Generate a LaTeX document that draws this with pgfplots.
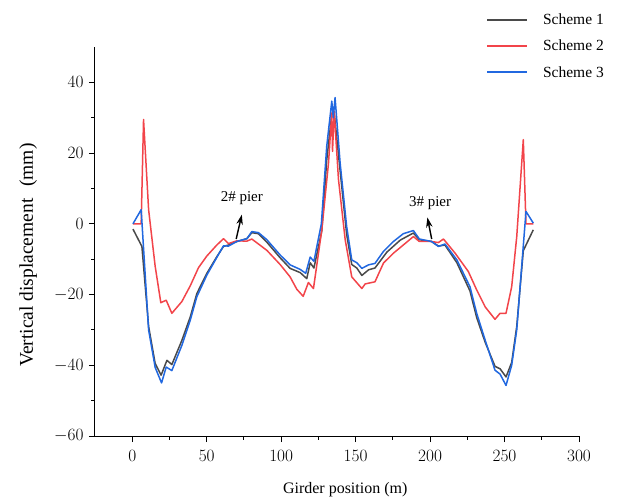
\documentclass[border=0pt]{standalone}
\usepackage{fontspec}
\setmainfont{Liberation Serif}
\usepackage{pgfplots}
\pgfplotsset{compat=1.18}
\usetikzlibrary{arrows.meta}

\definecolor{sone}{HTML}{4A4A4A}
\definecolor{stwo}{HTML}{F2444A}
\definecolor{sthree}{HTML}{2168E0}

\begin{document}
\begin{tikzpicture}
\begin{axis}[
    scale only axis, width=484pt, height=389pt,
    xmin=-25, xmax=300, ymin=-60, ymax=50,
    xtick={0,50,...,300}, ytick={-60,-40,...,40},
    minor tick num=1,
    axis lines=left, axis line style={-, line width=1pt},
    tick align=outside, major tick length=6pt, minor tick length=3.5pt,
    every tick/.style={black, line width=0.9pt},
    tick label style={font=\fontsize{16}{19}\selectfont},
    xticklabel style={yshift=-5pt},
    yticklabel style={xshift=-2pt},
    xlabel={Girder position (m)},
    ylabel={Vertical displacement\hspace{0.6em}(mm)},
    xlabel style={font=\fontsize{16}{19}\selectfont, at={(axis description cs:0.517,-0.139)}, anchor=center},
    ylabel style={font=\fontsize{19.5}{23}\selectfont, at={(axis description cs:-0.138,0.465)}, anchor=center},
    legend style={at={(1.062,1.096)}, anchor=north east, draw=none, fill=none,
        font=\fontsize{15.5}{18}\selectfont, row sep=10pt},
    legend cell align=left,
    legend image code/.code={\draw[#1, line width=2pt] (0pt,0.3pt) -- (40pt,0.3pt); \path[draw=none] (0pt,0pt) -- (54pt,0pt);},
    every axis plot/.append style={line width=1.5pt, line join=round},
]
% Scheme 1
\addplot[sone] coordinates {
(0.5,-1.5) (6.5,-6.4) (11,-29) (15.4,-39.5) (19.4,-42.8) (23.3,-38.6) (26.6,-39.8)
(33.3,-33) (39,-26.3) (43.4,-19.7) (50.1,-14) (56.8,-9.3) (61.3,-6.4) (64.6,-6.0)
(70.2,-5) (77,-4.2) (80.3,-2.5) (84.8,-2.8) (90.4,-5.2) (99.3,-9.6) (106,-12.6)
(112.8,-13.8) (117.2,-15.5) (119.5,-11) (122,-12.5) (127.3,-2) (130.6,18) (134,31)
(135.6,31.5) (139.6,15) (144,-3) (147.4,-11.5) (150.8,-12.5) (154.2,-14.6)
(158.7,-13) (163,-12.5) (171,-8) (180,-4.6) (188.8,-2.6) (192.8,-4.5) (201,-5)
(205.6,-6.3) (210,-6) (218,-11) (226.8,-19) (231.3,-26.5) (237,-33.5) (243.6,-40.3)
(247,-41) (251,-43.3) (254.8,-39.2) (258.2,-29) (262.6,-7.6) (269.3,-1.7)
};
\addlegendentry{Scheme 1}
% Scheme 2
\addplot[stwo] coordinates {
(0.5,0) (6,0) (7.6,29.5) (11,4) (15.4,-12) (19.2,-22.3) (22.8,-21.6) (26.6,-25.3)
(33.3,-22) (39,-17.5) (44.5,-12.4) (50.1,-9.1) (56.8,-6) (61.3,-4.2) (64.6,-5.6)
(70.2,-4.8) (77,-4.9) (80.3,-4.3) (90.4,-7.5) (99.3,-11.5) (106,-15) (110.5,-18.5)
(114.8,-20.5) (118.3,-16.6) (121.7,-18.3) (127.3,-1.7) (131.8,17.2) (134,31.4)
(134.5,20.5) (135.6,31.9) (138.5,12.5) (143,-4.5) (147.4,-15) (154.2,-18.3)
(156.4,-17) (163,-16.4) (168.7,-11.1) (175.4,-8.3) (182,-6) (188.8,-3.6)
(192.8,-5) (201,-5) (205.6,-5.3) (209,-4.3) (216.8,-8.3) (225.7,-13.5) (231.3,-18.7)
(237,-23.5) (243.6,-27) (247,-25.3) (251,-25.3) (254.8,-17.8) (258.2,-3.6)
(262.6,23.8) (264.4,0) (269.3,0)
};
\addlegendentry{Scheme 2}
% Scheme 3
\addplot[sthree] coordinates {
(0.5,0) (6,4) (11,-30) (15.4,-40.6) (19.7,-45) (22.8,-40.5) (26.6,-41.5) (33.3,-34.4)
(39,-27.2) (43.4,-20.6) (50.1,-14.5) (56.8,-9.5) (61.3,-6.2) (64.6,-6.3) (70.2,-5)
(77,-4.2) (80.3,-2.2) (84.8,-2.5) (90.4,-4.5) (99.3,-8.8) (106,-11.6) (112.8,-12.9)
(116.5,-14) (119.5,-9.4) (122,-10.6) (127,0) (130.6,21.9) (134,34.7) (135,30)
(136.2,35.7) (139.6,17.2) (144,-0.8) (147.4,-10.2) (150.8,-11) (154.2,-12.6)
(158.7,-11.6) (163,-11.2) (168.7,-7.8) (175.4,-5) (182,-2.8) (188.8,-1.9)
(192.8,-4.3) (201,-5) (205.6,-6.4) (210,-5.7) (218,-10.2) (226.8,-17.8)
(231.3,-25.3) (237,-32.9) (243.6,-41.4) (247,-42.5) (251,-45.7) (254.8,-40)
(258.2,-30) (264.4,3.5) (269.3,0.2)
};
\addlegendentry{Scheme 3}
% pier annotations
\draw[-{Stealth[length=10pt,width=6.5pt]}, line width=1.4pt] (axis cs:69.8,-4.3) -- (axis cs:73.6,2.6);
\node[font=\fontsize{15}{18}\selectfont] at (axis cs:73.6,7.2) {2\# pier};
\draw[-{Stealth[length=10pt,width=6.5pt]}, line width=1.4pt] (axis cs:201.1,-4.3) -- (axis cs:198.2,1.8);
\node[font=\fontsize{15}{18}\selectfont] at (axis cs:200,5.8) {3\# pier};
\end{axis}
\pgfresetboundingbox
\path (-95pt,-65pt) rectangle (524pt,436pt);
\end{tikzpicture}
\end{document}
